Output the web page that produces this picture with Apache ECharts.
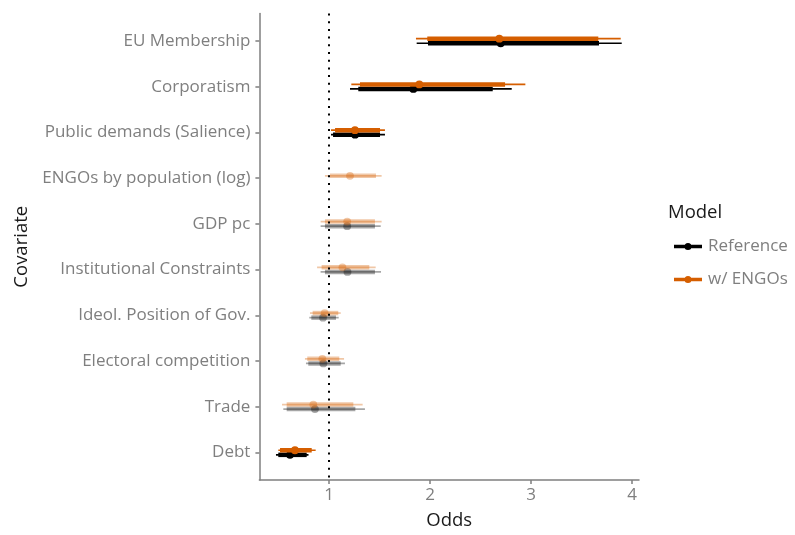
<!DOCTYPE html>
<html>
<head>
<meta charset="utf-8">
<script src="https://cdn.jsdelivr.net/npm/echarts@6/dist/echarts.min.js"></script>
<style>
  html, body { margin: 0; padding: 0; background: #fff; }
  #chart { width: 795px; height: 535px; }
</style>
</head>
<body>
<div id="chart"></div>
<script>
// Covariates, top to bottom
const categories = [
  'EU Membership', 'Corporatism', 'Public demands (Salience)',
  'ENGOs by population (log)', 'GDP pc', 'Institutional Constraints',
  'Ideol. Position of Gov.', 'Electoral competition', 'Trade', 'Debt'
];

// Reference model: point estimate, outer (95%) and inner (90%) intervals, odds scale
const refEst  = [2.700, 1.835, 1.258, null, 1.180, 1.183, 0.941, 0.944, 0.861, 0.614];
const refLo95 = [1.868, 1.208, 1.020, null, 0.917, 0.917, 0.805, 0.772, 0.548, 0.475];
const refHi95 = [3.898, 2.809, 1.554, null, 1.512, 1.515, 1.096, 1.158, 1.356, 0.797];
const refLo90 = [1.980, 1.290, 1.040, null, 0.960, 0.960, 0.825, 0.795, 0.581, 0.498];
const refHi90 = [3.673, 2.621, 1.505, null, 1.455, 1.455, 1.069, 1.116, 1.261, 0.779];

// Model with ENGOs
const engEst  = [2.686, 1.894, 1.257, 1.208, 1.180, 1.133, 0.957, 0.934, 0.845, 0.663];
const engLo95 = [1.861, 1.221, 1.020, 0.960, 0.917, 0.882, 0.812, 0.762, 0.535, 0.498];
const engHi95 = [3.888, 2.944, 1.554, 1.521, 1.521, 1.462, 1.116, 1.149, 1.333, 0.868];
const engLo90 = [1.973, 1.307, 1.060, 1.010, 0.960, 0.927, 0.838, 0.785, 0.581, 0.515];
const engHi90 = [3.666, 2.743, 1.505, 1.465, 1.455, 1.399, 1.092, 1.102, 1.241, 0.829];

const xTicks = [1, 2, 3, 4];

const FONT = 'Open Sans';
const GREY = '#7f7f7f';
const COL_REF = '#000000';
const COL_ENG = '#D55E00';

function rows(est, lo95, hi95, lo90, hi90) {
  const out = [];
  for (let i = 0; i < est.length; i++) {
    if (est[i] == null) continue;
    out.push([i, est[i], lo95[i], hi95[i], lo90[i], hi90[i]]);
  }
  return out;
}

// Draw one interval row: thin outer bar, thick inner bar, point.
function makeRender(color, offset) {
  return function (params, api) {
    const i = api.value(0);
    const y = i + offset;
    const lo95 = api.value(2), hi95 = api.value(3);
    const sig = lo95 > 1 || hi95 < 1;
    const op = sig ? 1 : 0.35;
    const a = api.coord([lo95, y]);
    const b = api.coord([hi95, y]);
    const c = api.coord([api.value(4), y]);
    const d = api.coord([api.value(5), y]);
    const p = api.coord([api.value(1), y]);
    return {
      type: 'group',
      children: [
        { type: 'line', shape: { x1: a[0], y1: a[1], x2: b[0], y2: b[1] },
          style: { stroke: color, lineWidth: 1.7, opacity: op } },
        { type: 'line', shape: { x1: c[0], y1: c[1], x2: d[0], y2: d[1] },
          style: { stroke: color, lineWidth: 4.5, opacity: op } },
        { type: 'circle', shape: { cx: p[0], cy: p[1], r: 3.9 },
          style: { fill: color, opacity: op } }
      ]
    };
  };
}

const legendIcon = 'path://M0,2.2H28V5.8H0Z M17.5,4A3.5,3.5 0 1 1 10.5,4A3.5,3.5 0 1 1 17.5,4Z';

const chart = echarts.init(document.getElementById('chart'), null, { renderer: 'canvas' });
chart.setOption({
  animation: false,
  backgroundColor: '#fff',
  textStyle: { fontFamily: FONT },
  title: {
    text: 'Model', left: 663, top: 198,
    textStyle: { fontFamily: FONT, fontSize: 18.5, fontWeight: 'normal', color: '#1a1a1a' }
  },
  legend: {
    orient: 'vertical', left: 669, top: 233,
    itemWidth: 28, itemHeight: 7, itemGap: 16,
    icon: legendIcon,
    textStyle: { fontFamily: FONT, fontSize: 17, color: GREY, padding: [0, 0, 0, 1] },
    data: [
      { name: 'Reference', itemStyle: { color: COL_REF } },
      { name: 'w/ ENGOs', itemStyle: { color: COL_ENG } }
    ]
  },
  grid: { left: 259.4, top: 13.5, width: 379.6, height: 468 },
  xAxis: {
    type: 'value', min: 0.311, max: 4.069,
    name: 'Odds', nameLocation: 'middle', nameGap: 31,
    nameTextStyle: { fontFamily: FONT, fontSize: 18.5, color: '#1a1a1a' },
    splitLine: { show: false },
    axisLine: { show: true, onZero: false, lineStyle: { color: GREY, width: 1.5 } },
    axisTick: { show: true, length: 4, customValues: xTicks, lineStyle: { color: GREY, width: 1.5 } },
    axisLabel: { customValues: xTicks, margin: 7, fontFamily: FONT, fontSize: 17, color: GREY }
  },
  yAxis: {
    type: 'value', inverse: true, min: -0.6, max: 9.6,
    name: 'Covariate', nameLocation: 'middle', nameGap: 228, nameRotate: 90,
    nameTextStyle: { fontFamily: FONT, fontSize: 18.5, color: '#1a1a1a' },
    splitLine: { show: false },
    axisLine: { show: true, onZero: false, lineStyle: { color: GREY, width: 1.5 } },
    axisTick: { show: true, length: 4, customValues: categories.map((c, i) => i), lineStyle: { color: GREY, width: 1.5 } },
    axisLabel: {
      customValues: categories.map((c, i) => i), margin: 9,
      fontFamily: FONT, fontSize: 17, color: GREY, padding: [3, 0, 0, 0],
      formatter: v => categories[Math.round(v)]
    }
  },
  series: [
    {
      name: 'Reference', type: 'custom', renderItem: makeRender(COL_REF, 0.05),
      itemStyle: { color: COL_REF },
      encode: { x: [1, 2, 3], y: 0 },
      data: rows(refEst, refLo95, refHi95, refLo90, refHi90),
      markLine: {
        silent: true, symbol: ['none', 'none'], label: { show: false },
        lineStyle: { color: '#000', width: 2, type: [2, 5.7], opacity: 1 },
        data: [{ xAxis: 1 }]
      },
      z: 2
    },
    {
      name: 'w/ ENGOs', type: 'custom', renderItem: makeRender(COL_ENG, -0.05),
      itemStyle: { color: COL_ENG },
      encode: { x: [1, 2, 3], y: 0 },
      data: rows(engEst, engLo95, engHi95, engLo90, engHi90),
      z: 3
    }
  ]
});
</script>
</body>
</html>
